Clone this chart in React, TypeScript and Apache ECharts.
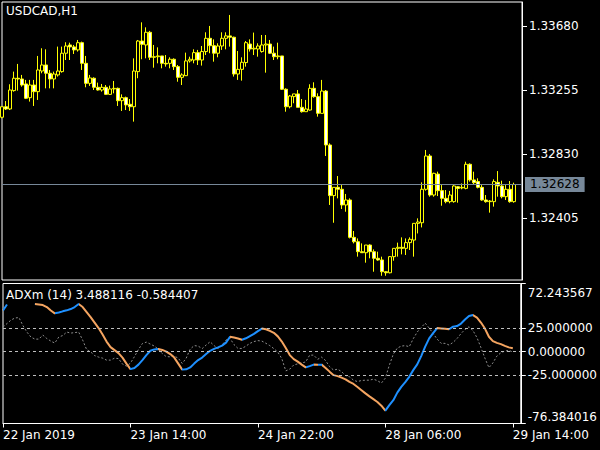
import React, { useEffect, useRef } from "react";
import * as echarts from "echarts";

const FONT = "DejaVu Sans";

const opens = [1.33074,1.33144,1.33129,1.33251,1.33333,1.33328,1.33295,1.33204,1.33288,1.33244,
1.33381,1.33421,1.33366,1.33328,1.33355,1.33377,1.33499,1.33554,1.33541,1.33521,
1.33569,1.33432,1.33299,1.33333,1.33273,1.33255,1.33273,1.33226,1.33262,1.33266,
1.33184,1.33204,1.33160,1.33144,1.33377,1.33580,1.33554,1.33638,1.33472,1.33476,
1.33481,1.33432,1.33432,1.33459,1.33410,1.33339,1.33350,1.33448,1.33454,1.33503,
1.33454,1.33510,1.33598,1.33549,1.33499,1.33547,1.33598,1.33614,1.33605,1.33361,
1.33392,1.33437,1.33560,1.33527,1.33527,1.33510,1.33554,1.33560,1.33499,1.33476,
1.33481,1.33260,1.33144,1.33211,1.33229,1.33140,1.33111,1.33122,1.33266,1.33211,
1.33100,1.33248,1.32890,1.32554,1.32609,1.32596,1.32492,1.32525,1.32277,1.32248,
1.32182,1.32175,1.32226,1.32182,1.32138,1.32127,1.32049,1.32042,1.32149,1.32204,
1.32211,1.32204,1.32242,1.32259,1.32370,1.32374,1.32596,1.32817,1.32558,1.32697,
1.32587,1.32536,1.32514,1.32514,1.32613,1.32605,1.32602,1.32762,1.32658,1.32647,
1.32609,1.32525,1.32514,1.32514,1.32642,1.32618,1.32547,1.32596,1.32514];

const closes = [1.33144,1.33129,1.33255,1.33333,1.33328,1.33288,1.33200,1.33288,1.33244,1.33388,
1.33421,1.33366,1.33328,1.33361,1.33381,1.33499,1.33547,1.33541,1.33521,1.33569,
1.33432,1.33299,1.33335,1.33273,1.33255,1.33273,1.33226,1.33262,1.33266,1.33184,
1.33204,1.33156,1.33144,1.33381,1.33580,1.33558,1.33638,1.33472,1.33476,1.33481,
1.33432,1.33428,1.33459,1.33410,1.33339,1.33355,1.33448,1.33459,1.33503,1.33454,
1.33510,1.33598,1.33549,1.33499,1.33547,1.33598,1.33614,1.33605,1.33361,1.33392,
1.33439,1.33569,1.33527,1.33532,1.33547,1.33554,1.33560,1.33499,1.33476,1.33481,
1.33260,1.33144,1.33215,1.33229,1.33140,1.33111,1.33129,1.33266,1.33211,1.33100,
1.33248,1.32890,1.32554,1.32609,1.32596,1.32492,1.32525,1.32277,1.32248,1.32182,
1.32175,1.32226,1.32182,1.32138,1.32127,1.32049,1.32042,1.32149,1.32204,1.32211,
1.32204,1.32242,1.32264,1.32370,1.32379,1.32596,1.32817,1.32558,1.32702,1.32587,
1.32536,1.32514,1.32558,1.32618,1.32602,1.32609,1.32762,1.32658,1.32640,1.32609,
1.32525,1.32514,1.32518,1.32647,1.32618,1.32547,1.32596,1.32514,1.32628];

const lows = [1.33067,1.33122,1.33122,1.33244,1.33251,1.33277,1.33195,1.33178,1.33149,1.33189,
1.33366,1.33266,1.33266,1.33266,1.33344,1.33370,1.33454,1.33454,1.33494,1.33510,
1.33388,1.33273,1.33282,1.33255,1.33251,1.33244,1.33222,1.33222,1.33233,1.33149,
1.33116,1.33122,1.33116,1.33045,1.33333,1.33459,1.33465,1.33454,1.33403,1.33432,
1.33399,1.33410,1.33399,1.33388,1.33310,1.33288,1.33348,1.33437,1.33432,1.33421,
1.33417,1.33487,1.33499,1.33443,1.33472,1.33521,1.33525,1.33543,1.33344,1.33322,
1.33317,1.33410,1.33510,1.33487,1.33476,1.33503,1.33370,1.33494,1.33454,1.33459,
1.33255,1.33111,1.33133,1.33167,1.33140,1.33105,1.33111,1.33118,1.33204,1.33078,
1.33100,1.32817,1.32492,1.32374,1.32536,1.32465,1.32447,1.32270,1.32237,1.32149,
1.32175,1.32109,1.32138,1.32049,1.32122,1.32022,1.32022,1.32038,1.32122,1.32149,
1.32164,1.32160,1.32193,1.32149,1.32303,1.32343,1.32587,1.32547,1.32547,1.32551,
1.32487,1.32503,1.32503,1.32507,1.32507,1.32596,1.32596,1.32647,1.32629,1.32602,
1.32520,1.32507,1.32441,1.32481,1.32547,1.32536,1.32525,1.32507,1.32507];

const highs = [1.33144,1.33182,1.33293,1.33377,1.33428,1.33355,1.33322,1.33322,1.33322,1.33481,
1.33532,1.33525,1.33388,1.33377,1.33543,1.33543,1.33572,1.33569,1.33554,1.33587,
1.33576,1.33481,1.33355,1.33339,1.33304,1.33295,1.33288,1.33284,1.33315,1.33271,
1.33226,1.33211,1.33195,1.33465,1.33587,1.33704,1.33671,1.33647,1.33554,1.33538,
1.33481,1.33487,1.33472,1.33465,1.33421,1.33366,1.33503,1.33476,1.33525,1.33521,
1.33547,1.33638,1.33680,1.33591,1.33565,1.33638,1.33638,1.33753,1.33609,1.33514,
1.33472,1.33580,1.33591,1.33636,1.33565,1.33620,1.33620,1.33587,1.33543,1.33569,
1.33481,1.33266,1.33222,1.33229,1.33255,1.33195,1.33189,1.33293,1.33306,1.33233,
1.33322,1.33255,1.32901,1.32609,1.32684,1.32624,1.32565,1.32536,1.32319,1.32270,
1.32237,1.32226,1.32231,1.32197,1.32182,1.32149,1.32053,1.32153,1.32204,1.32242,
1.32277,1.32270,1.32277,1.32370,1.32403,1.32642,1.32857,1.32830,1.32706,1.32713,
1.32624,1.32591,1.32585,1.32624,1.32618,1.32635,1.32779,1.32768,1.32713,1.32669,
1.32624,1.32558,1.32525,1.32662,1.32717,1.32653,1.32624,1.32651,1.32640];

const adxMain: (number | null)[] = [43.54,49.92,null,null,null,null,null,null,50.45,49.92,
49.39,47.26,43.54,40.56,41.41,42.69,43.75,45.13,47.26,50.45,
47.26,41.94,36.63,30.78,24.93,18.02,10.58,4.73,1.54,-1.65,
-6.43,-12.81,-18.66,-17.38,-13.87,-9.09,-3.77,0.80,2.29,2.60,
1.75,-0.05,-2.71,-6.43,-12.81,-19.19,-18.9,-16.85,-12.81,-9.09,
-6.43,-2.71,0.80,2.82,4.41,6.33,9.52,15.68,14.83,13.77,
12.49,14.09,16.43,18.77,21.74,24.40,23.66,21.96,19.83,16.11,
10.58,3.67,-3.77,-8.03,-10.69,-13.87,-16.85,-15.47,-13.87,-14.1,
-13.9,-17.38,-21.32,-25.04,-26.10,-27.70,-29.61,-32.27,-34.39,-37.58,
-40.99,-44.39,-47.58,-50.56,-53.53,-57.47,-62.78,-56.93,-51.62,-43.64,
-37.48,-32.48,-26.85,-19.72,-13.66,-4.84,5.26,13.98,19.62,24.9,
24.6,24.3,23.66,26.42,27.06,29.72,33.97,37.69,38.75,36.10,
30.78,24.40,15.68,11.11,9.20,7.92,6.01,4.41,3.488116];

const adxSignal = [26.0,29.7,33.4,35.6,36.1,27.6,20.7,15.4,13.2,13.2,
17.5,13.8,11.1,9.0,15.4,17.0,20.7,19.6,20.1,20.7,
12.2,2.1,-0.3,-4.3,-5.9,-7.0,-9.1,-9.1,-7.0,-7.5,
-13.3,-15.5,-12.3,-5.4,2.1,8.5,10.0,7.9,5.8,2.6,
-2.2,-5.4,-5.6,-4.8,-7.0,-12.6,-7.0,2.6,6.3,5.8,
3.1,6.9,10.4,6.3,3.1,6.9,12.2,14.0,7.4,3.3,
3.3,5.8,8.7,10.6,11.6,11.1,8.8,6.3,3.1,-0.6,
-7.5,-20.5,-18.7,-14.2,-13.1,-12.1,-11.0,-3.8,-3.8,-8.2,
-5.9,-9.6,-16.0,-19.7,-18.7,-21.3,-25.4,-26.8,-30.4,-31.9,
-30.7,-30.4,-30.4,-29.3,-30.9,-33.5,-28.2,-14.4,-2.7,3.7,
5.8,6.3,5.1,13.6,20.7,25.5,30.2,24.9,19.1,13.2,
8.7,8.7,6.9,9.7,13.8,19.1,23.5,26.3,22.3,14.8,
4.2,-7.0,-17.1,-12.1,-4.8,-1.3,0.5,1.3,-0.584407];

const tickIndex = [0, 32, 64, 96, 128];
const tickLabels = ["22 Jan 2019", "23 Jan 14:00", "24 Jan 22:00", "28 Jan 06:00", "29 Jan 14:00"];
const priceTicks = [1.32405, 1.3283, 1.33255, 1.3368];
const priceMin = 1.31994;
const priceMax = 1.33839;
const bidPrice = 1.32628;
const adxMax = 72.243567;
const adxMin = -76.384016;
const adxTicks = [adxMax, 25, 0, -25, adxMin];
const adxLevels = [25, 0, -25];
const symbolName = "USDCAD,H1";
const adxName = "ADXm (14)";

const UP = "#1E90FF";
const DOWN = "#F4A460";

export default function App() {
  const ref = useRef<HTMLDivElement>(null);
  useEffect(() => {
    const chart = echarts.init(ref.current!, null, { renderer: "svg" });
    const slots = opens.length + 2;
    const categories = Array.from({ length: slots }, (_, i) => String(i));
    const candles = opens.map((o, i) => [o, closes[i], lows[i], highs[i]]);

    const pieces: any[] = [];
    let segStart = 0;
    let segColor: string | null = null;
    for (let i = 1; i < adxMain.length; i++) {
      const a = adxMain[i - 1];
      const b = adxMain[i];
      let c = segColor;
      if (a != null && b != null) c = b > a ? UP : DOWN;
      if (c !== segColor) {
        if (segColor) pieces.push({ gte: segStart, lt: i - 1, color: segColor });
        segStart = i - 1;
        segColor = c;
      }
    }
    pieces.push({ gte: segStart, lte: adxMain.length - 1, color: segColor });

    const tickFn = (index: number) => tickIndex.includes(index);
    const lastMain = adxMain[adxMain.length - 1] as number;
    const lastSig = adxSignal[adxSignal.length - 1];
    const txt = { color: "#fff", fontFamily: FONT, fontSize: 12 };

    const option: any = {
      animation: false,
      backgroundColor: "#000",
      title: [
        { text: symbolName, left: 6, top: 5, padding: 0, textStyle: { ...txt, fontWeight: "normal" } },
        {
          text: `${adxName} ${lastMain.toFixed(6)} ${lastSig.toFixed(6)}`,
          left: 6, top: 289, padding: 0,
          textStyle: { ...txt, fontWeight: "normal" },
        },
      ],
      grid: [
        { left: 2, top: 2, width: 520, height: 278, show: true, borderColor: "#fff", borderWidth: 1 },
        { left: 2, top: 283.5, width: 520, height: 140, show: true, borderColor: "#fff", borderWidth: 1 },
      ],
      xAxis: [
        { type: "category", gridIndex: 0, data: categories, boundaryGap: false, show: false },
        {
          type: "category", gridIndex: 1, data: categories, boundaryGap: false, position: "bottom",
          axisLine: { onZero: false, lineStyle: { color: "#fff" } },
          axisTick: { interval: tickFn, length: 4, lineStyle: { color: "#fff" } },
          axisLabel: {
            interval: tickFn, align: "left", margin: 5, ...txt,
            formatter: (v: string) => tickLabels[tickIndex.indexOf(Number(v))] ?? "",
          },
          splitLine: { show: false },
        },
      ],
      yAxis: [
        {
          type: "value", gridIndex: 0, position: "right", min: priceMin, max: priceMax,
          axisLine: { show: true, lineStyle: { color: "#fff" } },
          axisTick: { show: true, length: 5, customValues: priceTicks, lineStyle: { color: "#fff" } },
          axisLabel: { customValues: priceTicks, margin: 7, ...txt, formatter: (v: number) => v.toFixed(5) },
          splitLine: { show: false },
        },
        {
          type: "value", gridIndex: 1, position: "right", min: adxMin, max: adxMax,
          axisLine: { show: true, lineStyle: { color: "#fff" } },
          axisTick: { show: true, length: 5, customValues: adxTicks, lineStyle: { color: "#fff" } },
          axisLabel: {
            customValues: adxTicks, margin: 7, ...txt,
            formatter: (v: number) => {
              const s = v.toFixed(6);
              if (Math.abs(v - adxMax) < 1e-6) return `{top|${s}}`;
              if (Math.abs(v - adxMin) < 1e-6) return `{bot|${s}}`;
              return s;
            },
            rich: {
              top: { ...txt, padding: [18, 0, 0, 0] },
              bot: { ...txt, padding: [0, 0, 14, 0] },
            },
          },
          splitLine: { show: false },
        },
      ],
      visualMap: [
        { type: "piecewise", show: false, seriesIndex: 1, dimension: 0, pieces, outOfRange: { color: DOWN } },
      ],
      series: [
        {
          type: "candlestick", xAxisIndex: 0, yAxisIndex: 0, data: candles, barWidth: 3,
          itemStyle: { color: "#000", color0: "#fff", borderColor: "#FFFF00", borderColor0: "#FFFF00", borderWidth: 1 },
          markLine: {
            silent: true, symbol: ["none", "none"], precision: 5,
            lineStyle: { color: "#778899", width: 1, type: "solid" },
            label: {
              show: true, position: "end", distance: 3,
              formatter: () => bidPrice.toFixed(5),
              color: "#000", backgroundColor: "#778899", padding: [2, 5, 1, 5],
              fontFamily: FONT, fontSize: 12,
            },
            data: [{ yAxis: bidPrice }],
          },
        },
        {
          type: "line", xAxisIndex: 1, yAxisIndex: 1, data: adxMain, showSymbol: false,
          connectNulls: false, z: 4, lineStyle: { width: 2 },
        },
        {
          type: "line", xAxisIndex: 1, yAxisIndex: 1, data: adxSignal, showSymbol: false, z: 3,
          lineStyle: { width: 1, color: "#8C8C8C", type: [2, 2] },
          itemStyle: { color: "#8C8C8C" },
          markLine: {
            silent: true, symbol: ["none", "none"], label: { show: false }, precision: 6,
            lineStyle: { color: "#BEBEBE", width: 1, type: [3, 3] },
            data: adxLevels.map((v) => ({ yAxis: v })),
          },
        },
      ],
    };
    chart.setOption(option);
    return () => chart.dispose();
  }, []);
  return <div ref={ref} style={{ position: "fixed", left: 0, top: 0, width: 600, height: 450 }} />;
}
